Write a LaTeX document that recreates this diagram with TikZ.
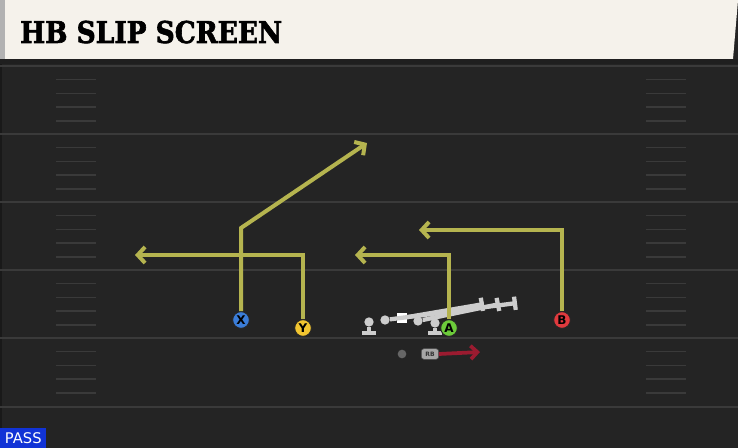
\documentclass[tikz,border=0pt]{standalone}
\usepackage{fontspec}
\usetikzlibrary{arrows.meta}
\newfontfamily\titlefont{DejaVu Serif}[BoldFeatures={FakeBold=2.2}]
\newfontfamily\labelfont{DejaVu Sans}
\definecolor{field}{HTML}{242424}
\definecolor{yardline}{HTML}{3A3A3A}
\definecolor{banner}{HTML}{F5F2EB}
\definecolor{routecol}{HTML}{B5B44F}
\definecolor{linecol}{HTML}{CDCDCD}
\definecolor{runred}{HTML}{9B1B30}
\definecolor{passblue}{HTML}{1133D6}
\definecolor{xblue}{HTML}{3B7DD8}
\definecolor{yyellow}{HTML}{F2C530}
\definecolor{agreen}{HTML}{6CCB3A}
\definecolor{bred}{HTML}{E03A3E}
\tikzset{
    player/.style={circle,draw=black!85,line width=0.7pt,minimum size=12.5pt,inner sep=0pt,font=\labelfont\bfseries\fontsize{9}{9}\selectfont},
    route/.style={draw=routecol,line width=3pt,-{Straight Barb[length=5.5pt,width=12pt]}},
    lineman/.style={circle,fill=linecol,minimum size=7pt,inner sep=0pt},
    block/.style={draw=linecol,line width=3.2pt,-{Bar[width=10pt]}}
}
\begin{document}
\begin{tikzpicture}[x=0.75pt,y=-0.75pt]
    \useasboundingbox (0,0) rectangle (738,448);
    % field
    \fill[field] (0,0) rectangle (738,448);
    \fill[black!30!field] (0,0) rectangle (2,448);
    \foreach \y in {66,134,202,270,338,407}
        \draw[yardline,line width=1.5pt] (0,\y) -- (738,\y);
    \foreach \y in {66,134,202,270,338}
        \foreach \k in {1,...,4} {
            \draw[yardline,line width=1.1pt] (56,\y+\k*13.7) -- (96,\y+\k*13.7);
            \draw[yardline,line width=1.1pt] (646,\y+\k*13.7) -- (686,\y+\k*13.7);
        }

    % title banner
    \fill[black!88] (0,59) rectangle (738,64);
    \fill[gray!60] (0,0) rectangle (5,59);
    \fill[banner] (5,0) -- (738,0) -- (733,59) -- (5,59) -- cycle;
    \node[anchor=base west,inner sep=0pt,font=\titlefont\bfseries\fontsize{22.5}{22.5}\selectfont] (title) at (20,43) {\scalebox{0.88}[1]{HB SLIP SCREEN}};

    % offensive line
    \node[lineman] (LT) at (369,322) {};
    \node[lineman] (LG) at (385,320) {};
    \node[fill=white,minimum size=7pt,inner sep=0pt] (C) at (402,318) {};
    \node[lineman] (RG) at (418,321) {};
    \node[lineman] (RT) at (435,323) {};
    \coordinate (LTset) at (369,335);
    \coordinate (RTset) at (435,335);
    \coordinate (Cblock) at (484,304);
    \coordinate (LGblock) at (517,303);
    \coordinate (RGblock) at (500,304);
    \draw[block] (LT) -- (LTset);
    \draw[block] (RT) -- (RTset);
    \draw[block] (LG) -- (LGblock);
    \draw[block] (C) -- (Cblock);
    \draw[block] (RG) -- (RGblock);

    % backfield
    \node[circle,fill=gray!80!black,minimum size=6.5pt,inner sep=0pt] (QB) at (402,354) {};
    \node[fill=gray!70,draw=black!70,rounded corners=2pt,minimum width=13pt,minimum height=8pt,inner sep=0pt,font=\labelfont\bfseries\fontsize{4.5}{5}\selectfont,text=black!80] (RB) at (430,354) {RB};
    \coordinate (RBend) at (480,352);
    \draw[draw=runred,line width=2.8pt,-{Straight Barb[length=5pt,width=10pt]}] (RB.east) -- (RBend);

    % receivers and routes
    \node[player,fill=xblue] (X) at (241,320) {X};
    \node[player,fill=yyellow] (Y) at (303,328) {Y};
    \node[player,fill=agreen] (A) at (449,328) {A};
    \node[player,fill=bred] (B) at (562,320) {B};
    \coordinate (Xbreak) at (241,228);
    \coordinate (Xend) at (367,143);
    \coordinate (Yend) at (135,255);
    \coordinate (Aend) at (355,255);
    \coordinate (Bend) at (419,230);
    \draw[route] (X) -- (Xbreak) -- (Xend);
    \draw[route] (Y) |- (Yend);
    \draw[route] (A) |- (Aend);
    \draw[route] (B) |- (Bend);

    % play type
    \node[anchor=south west,fill=passblue,text=white,minimum width=34.5pt,minimum height=15pt,inner sep=1pt,font=\labelfont\fontsize{11}{11}\selectfont] (play) at (0,448) {PASS};
\end{tikzpicture}
\end{document}
